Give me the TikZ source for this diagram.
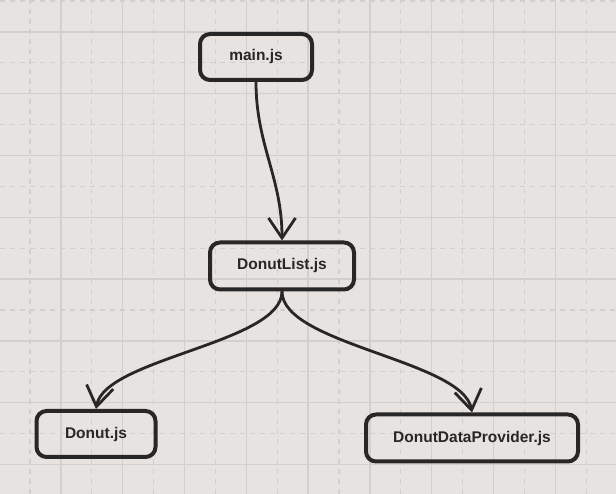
\documentclass[tikz,border=0pt]{standalone}
\usepackage{fontspec}
\setmainfont{Liberation Sans}
\usepackage{tikz}
\usetikzlibrary{arrows.meta}
\usepackage{xcolor}
\definecolor{paper}{HTML}{E7E3E1}
\definecolor{gridline}{HTML}{D3CFCD}
\definecolor{ink}{HTML}{272727}

\begin{document}
\begin{tikzpicture}[x=1pt,y=1pt,
		box/.style={draw=ink,line width=4pt,rounded corners=10pt,inner sep=0pt,
			minimum height=46pt,text=ink,font=\fontsize{15.5}{18}\selectfont\bfseries},
		dep/.style={draw=ink,line width=2.8pt,line cap=round,line join=round,
			-{Straight Barb[length=20pt,width=27pt]}}]
				\useasboundingbox[fill=paper] (0,0) rectangle (616,494);
				
				% grid
				\foreach \k in {0,...,18}{
					\ifodd\k
						\draw[gridline,line width=1.3pt] (30+30.9*\k,0) -- (30+30.9*\k,494);
					\else
						\draw[gridline,line width=1.3pt,dash pattern=on 5pt off 5pt] (30+30.9*\k,0) -- (30+30.9*\k,494);
					\fi
				}
				\foreach \k in {0,...,15}{
					\ifodd\k
						\draw[gridline,line width=1.3pt] (0,493-30.9*\k) -- (616,493-30.9*\k);
					\else
						\draw[gridline,line width=1.3pt,dash pattern=on 5pt off 5pt] (0,493-30.9*\k) -- (616,493-30.9*\k);
					\fi
				}
				
				\node(main) at (256,437)[box,minimum width=112pt]{main.js};
				\node(list) at (282,228)[box,minimum width=144pt,minimum height=47pt]{DonutList.js};
				\node(donut) at (96,60)[box,minimum width=119pt]{Donut.js};
				\node(provider) at (472,56)[box,minimum width=212pt,minimum height=47pt]{DonutDataProvider.js};
				
				\draw[dep] (main.south) to[out=-90,in=90] (list.north);
				\draw[dep] (list.south) to[out=-90,in=80,looseness=0.6] (donut.north);
				\draw[dep] (list.south) to[out=-90,in=100,looseness=0.6] (provider.north);
				
			\end{tikzpicture}
\end{document}
